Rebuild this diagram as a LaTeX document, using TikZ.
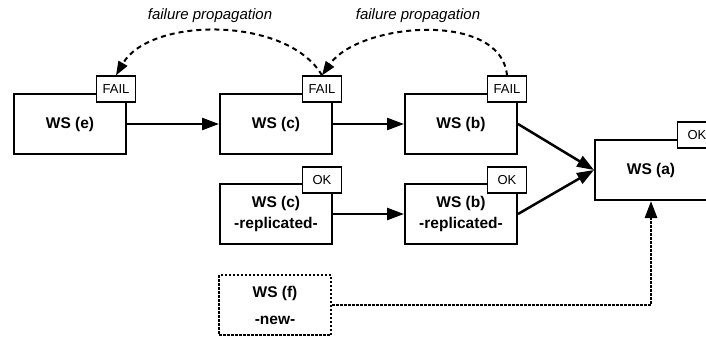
\documentclass[tikz,border=0pt]{standalone}
\usepackage{fontspec}
\setmainfont{Liberation Sans}
\usetikzlibrary{arrows.meta, calc}

\begin{document}
\begin{tikzpicture}[x=1pt,y=1pt,
        ws/.style={draw, line width=2pt, minimum width=112pt, minimum height=60pt,
            align=center, font=\fontsize{15.5}{21}\selectfont\bfseries},
        tag/.style={draw, fill=white, line width=1.2pt, minimum width=39pt,
            minimum height=26pt, inner sep=0pt, font=\fontsize{13}{15}\selectfont},
        flow/.style={line width=2.5pt, -{Triangle[length=17pt,width=12pt]}},
        prop/.style={line width=2pt, dash pattern=on 5pt off 4pt,
            -{Triangle[length=14pt,width=10pt]}},
        newdots/.style={line width=2.8pt, dash pattern=on 2.5pt off 1.5pt}]
    \useasboundingbox (0,0) rectangle (706,338);
    \node[ws] (e) at (70,214) {WS (e)};
    \node[ws] (c) at (276,214) {WS (c)};
    \node[ws] (b) at (461,214) {WS (b)};
    \node[ws] (cr) at (276,124) {WS (c)\\-replicated-};
    \node[ws] (br) at (461,124) {WS (b)\\-replicated-};
    \node[ws, newdots] (f) at (275,33) {WS (f)\\[6pt]-new-};
    \node[ws] (a) at (651,168) {WS (a)};
    \node[tag] (te) at ($(e.north east)+(-11,4)$) {FAIL};
    \node[tag] (tc) at ($(c.north east)+(-11,4)$) {FAIL};
    \node[tag] (tb) at ($(b.north east)+(-11,4)$) {FAIL};
    \node[tag] (tcr) at ($(cr.north east)+(-11,3)$) {OK};
    \node[tag] (tbr) at ($(br.north east)+(-11,3)$) {OK};
    \node[tag] (ta) at ($(a.north east)+(-11,4)$) {OK};
    \draw[flow] (e) -- (c);
    \draw[flow] (c) -- (b);
    \draw[flow] (cr) -- (br);
    \draw[flow] (b.east) -- (a.west);
    \draw[flow] (br.east) -- (a.west);
    \draw[flow, newdots] (f.east) -| (a.south);
    \draw[prop] (tb.north) to[out=95,in=55,looseness=0.9] (tc.north);
    \draw[prop] (tc.north) to[out=120,in=60,looseness=0.85] (te.north);
    \node[font=\fontsize{15}{18}\selectfont\itshape] (lbl1) at (210,322) {failure propagation};
    \node[font=\fontsize{15}{18}\selectfont\itshape] (lbl2) at (418,322) {failure propagation};
\end{tikzpicture}
\end{document}
